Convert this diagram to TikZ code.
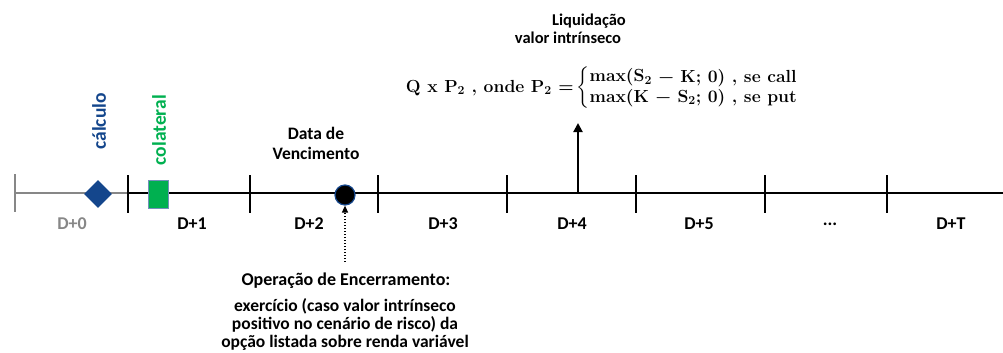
\documentclass[tikz,border=0pt]{standalone}
\usepackage{amsmath}
\usepackage[no-math]{fontspec}
\setmainfont{Carlito}
\newfontfamily\fbold{Latin Modern Roman}
\usetikzlibrary{arrows.meta,shapes.geometric}
\definecolor{dblue}{RGB}{20,70,140}
\definecolor{xgreen}{RGB}{0,176,80}
\definecolor{lgray}{RGB}{135,135,135}
\newsavebox{\formbox}
\newcommand{\fbs}{\fbold\bfseries}
\tikzset{
  tl/.style={line width=2.8pt},
  tick/.style={line width=2.6pt},
  lbl/.style={font=\fontsize{18}{20}\selectfont\bfseries, inner sep=0pt},
}
\begin{document}
\sbox{\formbox}{\fontsize{17.5}{20}\selectfont\boldmath{\fbs Q x P\textsubscript{2} , onde P\textsubscript{2} =\,}$\left\{\begin{array}{@{}l@{}}\text{\fbs max(S\textsubscript{2} − K; 0) , se call}\\ \text{\fbs max(K − S\textsubscript{2}; 0) , se put}\end{array}\right.$}%
\begin{tikzpicture}[x=1pt,y=-1pt]
\useasboundingbox (0,0) rectangle (1003,353);
\foreach \n/\x in {t0/15,t1/128,t2/250,t3/378,t4/507,t5/636,t6/765,t7/887}{
  \coordinate (\n) at (\x,193);
}
\coordinate (e) at (1003,193);
\draw[tl,lgray] (t0) -- (t1);
\draw[tl,black] (t1) -- (e);
\draw[tick,lgray] (15,174) -- (15,212);
\foreach \x in {128,250,378,507,636,765,887}{
  \draw[tick,black] (\x,175) -- (\x,213);
}
% markers
\node[diamond, fill=dblue, minimum width=28pt, minimum height=28pt, inner sep=0pt] (calc) at (98,194) {};
\node[rectangle, fill=xgreen, draw=dblue!60, line width=0.7pt, minimum width=20pt, minimum height=28pt, inner sep=0pt] (col) at (158,194) {};
\node[circle, fill=black, draw=dblue, line width=1.2pt, minimum size=20pt, inner sep=0pt] (venc) at (345,195) {};
% vertical labels
\node[lbl, dblue, rotate=90, anchor=east, font=\fontsize{19.5}{20}\selectfont\bfseries] (lcalc) at (99,93) {cálculo};
\node[lbl, xgreen, rotate=90, anchor=east, font=\fontsize{19.5}{20}\selectfont\bfseries] (lcol) at (159,95) {colateral};
% period labels
\node[lbl, lgray] (d0) at (72,224) {D+0};
\node[lbl] (d1) at (192,224) {D+1};
\node[lbl] (d2) at (309,224) {D+2};
\node[lbl] (d3) at (443,224) {D+3};
\node[lbl] (d4) at (572,224) {D+4};
\node[lbl] (d5) at (699,224) {D+5};
\node[lbl] (d6) at (830,224) {...};
\node[lbl] (d7) at (951,224) {D+T};
% Data de vencimento
\node[lbl, align=center, font=\fontsize{17.5}{20}\selectfont\bfseries] (dv) at (316,143) {Data de\\Vencimento};
% Liquidacao
\coordinate (a4) at (578,193);
\node[lbl, font=\fontsize{16.5}{17}\selectfont\bfseries] (liq1) at (589,21) {Liquidação};
\node[lbl, font=\fontsize{16.5}{17}\selectfont\bfseries] (liq2) at (568,38) {valor intrínseco};
\node[inner sep=0pt] (form) at (602,88) {\usebox{\formbox}};
\draw[line width=2pt, -{Triangle[length=9pt,width=9pt]}] (a4) -- (578,123);
% Operacao de encerramento
\coordinate (ob) at (345,262);
\draw[line width=1.3pt, dash pattern=on 1.5pt off 1.5pt, -{Triangle[length=7pt,width=6pt]}] (ob) -- (venc.south);
\node[lbl] (op) at (346,281) {Operação de Encerramento:};
\node[lbl, align=center, font=\fontsize{17.5}{18}\selectfont\bfseries] (ex) at (345,324) {exercício (caso valor intrínseco\\positivo no cenário de risco) da\\opção listada sobre renda variável};
\end{tikzpicture}
\end{document}
